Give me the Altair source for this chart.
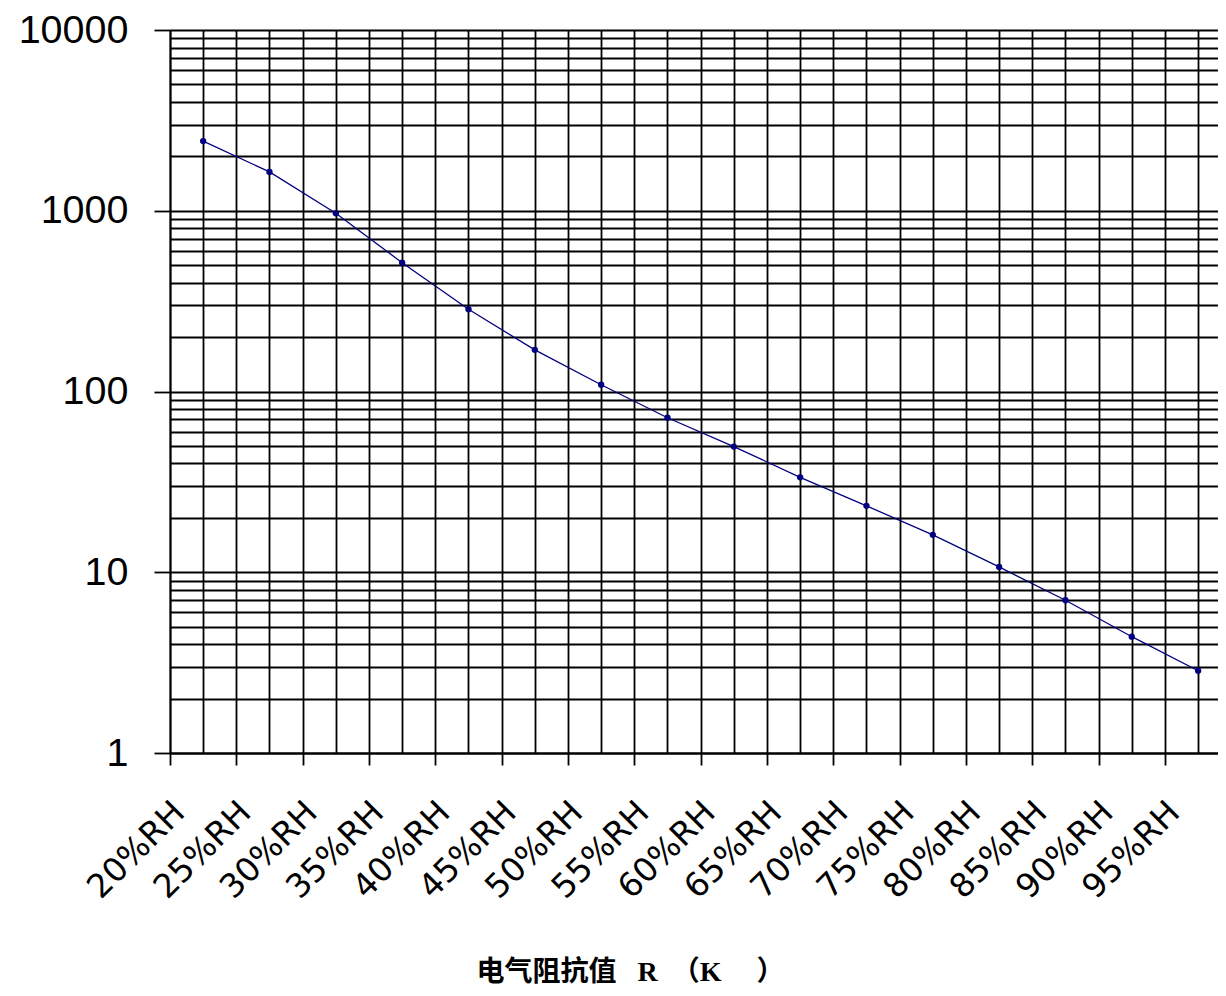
import altair as alt
import pandas as pd

# ---- data ----
rh_labels = ["20%RH", "25%RH", "30%RH", "35%RH", "40%RH", "45%RH", "50%RH", "55%RH",
             "60%RH", "65%RH", "70%RH", "75%RH", "80%RH", "85%RH", "90%RH", "95%RH"]
resistance = [2430, 1640, 968, 516, 285, 170, 109, 71.6,
              49.6, 33.5, 23.3, 16.1, 10.7, 7.0, 4.4, 2.85]
y_major = [1, 10, 100, 1000, 10000]
y_multipliers = [1, 2, 3, 4, 5, 6, 7, 8, 9]
NB = "\u00a0"
title_text = "电气阻抗值" + NB * 3 + "R" + NB * 2 + "（K" + NB * 5 + "）"

df = pd.DataFrame({"rh": rh_labels, "R": resistance})
df["pos"] = df.index + 0.5  # band centre

x_grid_vals = [i * 0.5 for i in range(2 * len(rh_labels))]
y_grid_vals = [m * d for d in y_major[:-1] for m in y_multipliers] + [y_major[-1]]

labels_js = "[" + ",".join("'" + s + "'" for s in rh_labels) + "]"
major_js = "[" + ",".join(str(v) for v in y_major) + "]"

GW = 1.8
PLOT_W = 1048
BAND_PX = 66.33

x_axis = alt.Axis(
    values=x_grid_vals,
    grid=True, gridColor="#000000", gridWidth=GW, gridOpacity=1,
    domain=True, domainColor="#000000", domainWidth=GW,
    ticks=True, tickColor="#000000", tickWidth=GW, tickSize=12,
    tickOpacity={"condition": {"test": "datum.value % 1 == 0", "value": 1}, "value": 0},
    labelExpr="datum.value % 1 == 0 ? " + labels_js + "[datum.value] : ''",
    labelAngle=315, labelAlign="right", labelBaseline="alphabetic",
    labelFont="DejaVu Sans", labelFontSize=33, labelColor="#000000",
    labelPadding=49, labelOffset=16,
    labelOverlap=False, labelFlush=False, labelBound=False,
    title=title_text,
    titleFont="Liberation Serif, Noto Sans CJK SC", titleFontSize=28,
    titleFontWeight="bold", titleColor="#000000",
    titleX=460, titleY=227, titleAlign="center", titleBaseline="alphabetic",
)

y_axis = alt.Axis(
    values=y_grid_vals,
    grid=True, gridColor="#000000", gridWidth=GW, gridOpacity=1,
    domain=True, domainColor="#000000", domainWidth=GW,
    ticks=True, tickColor="#000000", tickWidth=GW, tickSize=16,
    tickOpacity={"condition": {"test": "indexof(" + major_js + ", datum.value) >= 0", "value": 1}, "value": 0},
    labelExpr="indexof(" + major_js + ", datum.value) >= 0 ? '' + datum.value : ''",
    labelFont="Liberation Sans", labelFontSize=39.5, labelColor="#000000",
    labelPadding=26, labelAlign="right", labelBaseline="middle",
    labelOverlap=False, labelFlush=False, labelBound=False,
    title=None,
)

base = alt.Chart(df).encode(
    x=alt.X("pos:Q", scale=alt.Scale(domain=[0, PLOT_W / BAND_PX], nice=False, zero=False), axis=x_axis),
    y=alt.Y("R:Q", scale=alt.Scale(type="log", domain=[1, 10000], nice=False), axis=y_axis),
)

line = base.mark_line(color="#000080", strokeWidth=1.3)
pts = base.mark_point(filled=True, size=40, color="#000080", opacity=1)

chart = (
    alt.layer(line, pts)
    .properties(
        width=PLOT_W,
        height=723,
        autosize=alt.AutoSizeParams(type="none"),
        padding={"left": 162, "top": 22, "right": 0, "bottom": 235},
        background="white",
    )
    .configure_view(stroke=None)
)

chart.save("out.html", embed_options={"renderer": "svg", "actions": False})
